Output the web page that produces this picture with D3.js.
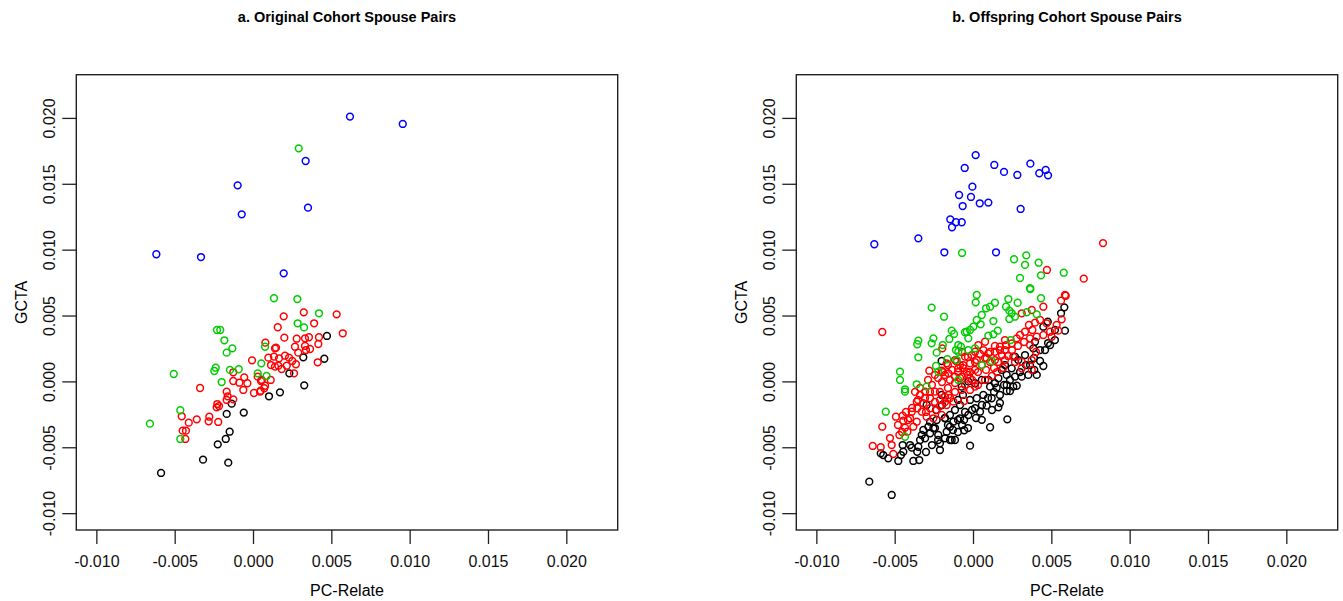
<!DOCTYPE html>
<html>
<head>
<meta charset="utf-8">
<script src="https://cdn.jsdelivr.net/npm/d3@7"></script>
<style>
  body { margin: 0; background: #fff; }
  text { font-family: "Liberation Sans", Arial, Helvetica, sans-serif; }
</style>
</head>
<body>
<div id="chart"></div>
<script>
// values, [PC-Relate, GCTA]
var tickValues = [-0.010, -0.005, 0.000, 0.005, 0.010, 0.015, 0.020];

var origBlack = [[-0.00587,-0.00695],[-0.00319,-0.00594],[-0.00158,-0.00617],[-0.00225,-0.00478],[-0.00174,-0.00437],
  [-0.00149,-0.00382],[-0.00168,-0.00247],[-0.00136,-0.00169],[-0.00059,-0.00237],[0.00102,-0.00113],[0.00172,-0.00083],
  [0.00232,0.00061],[0.00321,0.00183],[0.00327,-0.0003],[0.00472,0.00345],[0.00455,0.00172]];

var origRed = [[-0.00338,-0.0005],[-0.00455,-0.00265],[-0.00449,-0.00374],[-0.00428,-0.00374],[-0.00432,-0.00437],
  [-0.0041,-0.00313],[-0.00359,-0.00288],[-0.00279,-0.00268],[-0.00283,-0.00303],[-0.00222,-0.00308],[-0.00232,-0.00197],
  [-0.00228,-0.00172],[-0.00217,-0.00187],[-0.00168,-0.00078],[-0.00162,-0.00113],[-0.00168,-0.00141],[-0.00126,-0.00136],
  [-0.00126,0.00003],[-0.00126,0.00069],[-0.00087,-0.0001],[-0.00056,0.00031],[-0.00062,-0.00065],[-0.00036,-0.00014],
  [-0.00006,0.0016],[0.00006,-0.00088],[0.0003,0.00036],[0.00049,-0.00071],[0.00072,-0.00052],[0.00051,0.00003],
  [0.00079,0.00294],[0.00113,0.00011],[0.00158,0.00411],[0.00196,0.00494],[0.002,0.00332],[0.0014,0.00251],
  [0.00324,0.00524],[0.0039,0.00441],[0.00534,0.00509],[0.00573,0.00365],[0.00413,0.00145],[0.00279,0.00324],
  [0.00332,0.00327],[0.00357,0.00335],[0.00421,0.00335],[0.00268,0.00263],[0.00332,0.00269],[0.00364,0.00246],
  [0.00417,0.00284],[0.00289,0.00218],[0.00338,0.00238],[0.00147,0.00256],[0.00098,0.0018],[0.00134,0.00188],
  [0.00166,0.00175],[0.00204,0.00195],[0.0023,0.0018],[0.00251,0.00155],[0.00274,0.0013],[0.00115,0.00124],
  [0.0014,0.00112],[0.00162,0.00119],[0.00183,0.00094],[0.00215,0.00119],[0.00262,0.00061],[0.00077,-0.00033],
  [0.00045,-0.00078],[0.00056,0.00011]];

var origGreen = [[0.00292,0.01769],[-0.00658,-0.00321],[-0.00506,0.00056],[-0.00464,-0.00219],[-0.00464,-0.00437],
  [-0.0023,0.0039],[-0.00209,0.0039],[-0.00183,0.00312],[-0.00168,0.00218],[-0.00132,0.00251],[-0.00238,0.00104],
  [-0.00247,0.00079],[-0.002,-0.00005],[-0.00147,0.00087],[-0.00091,0.00092],[0.00053,0.00137],[0.00077,0.00263],
  [0.0003,0.00061],[0.00087,0.00041],[0.00285,0.00441],[0.00326,0.0041],[0.00421,0.00517],[0.00134,0.00631],
  [0.00283,0.00625]];

var origBlue = [[-0.00617,0.00965],[-0.00332,0.00944],[-0.00098,0.01488],[-0.00072,0.01268],[0.00196,0.0082],
  [0.00336,0.01673],[0.00351,0.01319],[0.00619,0.0201],[0.00956,0.01954]];

var offBlack = [[-0.002,0.00155],
  [0.00583,0.00562],[0.00562,0.00517],[0.00587,0.00385],[0.00477,0.00453],[0.00449,0.00415],[0.00396,0.00301],
  [0.00385,0.00251],[0.00289,0.00162],[0.00268,0.00188],[0.00428,0.00155],[0.00449,0.00117],[0.00391,0.00087],
  [0.00407,0.00049],[0.00353,0.00049],[0.00204,0.00124],[0.00247,0.00099],[0.00183,0.00087],[0.00215,0.00049],
  [0.00268,0.00036],[0.00311,0.00036],[0.00162,0.00024],[0.00098,0.00011],[0.0014,-0.00014],[0.00109,-0.0004],
  [0.00056,0.00011],[0.00013,-0.00014],[-0.0003,0],[-0.00072,-0.0004],[0.00215,-0.00027],[0.00257,-0.0004],
  [-0.00662,-0.00761],[-0.00519,-0.00862],[-0.00589,-0.00546],[-0.00573,-0.00559],[-0.00541,-0.00584],
  [-0.00477,-0.00604],[-0.0046,-0.00559],[-0.00445,-0.00534],[-0.00449,-0.00483],[-0.00402,-0.00483],
  [-0.00391,-0.00503],[-0.00356,-0.00534],[-0.00349,-0.00496],[-0.00338,-0.00445],[-0.00327,-0.00407],
  [-0.00381,-0.00604],[-0.00343,-0.00597],[-0.00317,-0.00369],[-0.00285,-0.00344],[-0.00274,-0.00394],
  [-0.00253,-0.00356],[-0.00222,-0.00407],[-0.00211,-0.0047],[-0.00211,-0.00521],[-0.00168,-0.00382],
  [-0.00179,-0.00432],[-0.00136,-0.00445],[-0.00147,-0.00344],[-0.00125,-0.00306],[-0.00179,-0.0028],
  [-0.00232,-0.00293],[-0.00274,-0.00306],[-0.00306,-0.00432],[-0.002,-0.00103],[-0.00236,-0.00217],
  [-0.00296,-0.00179],
  [0.00151,-0.00048],[0.00215,-0.00073],[0.00236,-0.00073],[0.00279,-0.00033],[0.00162,-0.00197],[0.00219,-0.00288],
  [0.00109,-0.00348],[0.00056,-0.00292],[0.00045,-0.0023],[0.00087,-0.00184],[0.00119,-0.00128],[0.00013,-0.00204],
  [-0.0003,-0.00255],[-0.00083,-0.0028],[0.00024,-0.00128],[0.00066,-0.00103],[-0.00056,-0.00371],[-0.00019,-0.00488],
  [-0.00115,-0.00445],
  [-0.00115,-0.00217],[-0.00083,-0.00179],[-0.00051,-0.00232],[-0.00096,-0.00293],[-0.00147,-0.00255],
  [-0.0007,-0.00331],[-0.00019,-0.00141],[0.00332,0.002],[0.00364,0.00124],[0.0046,0.00238],[0.00492,0.00276],
  [0.00523,0.00314],
  [-0.00198,-0.00179],[-0.0016,-0.00331],[-0.00128,-0.00369],[-0.00096,-0.00384],[-0.00057,-0.00293],
  [-0.00032,-0.00354],[-0.00006,-0.00217],[0.00019,-0.00278],[0.00057,-0.00179],[0.00096,-0.00126],
  [0.00134,-0.0008],[0.00172,-0.00103],[0.00198,-0.00027],[0.00236,0.00011],[0.003,0.00071],[0.00338,0.00124],
  [0.00389,0.00178],[0.00428,0.00238],[0.00479,0.00291],[0.00523,0.0039],[-0.00096,-0.00141],[-0.00064,-0.00103],
  [-0.00147,-0.00445],[-0.00223,-0.00445],[-0.00262,-0.00483],[-0.003,-0.00536],[-0.00243,-0.00354],
  [-0.00179,-0.00278],[0.00121,-0.00217],[0.00172,-0.00164]];

var offRed = [[0.00472,0.00846],[0.00707,0.0078],[0.00592,0.0065],[0.0083,0.0105],
  [-0.00579,0.00375],[-0.00196,0.00251],[-0.00279,0.00081],[-0.00168,0.00137],[-0.00104,0.0015],[-0.002,0.00081],
  [-0.00157,0.00061],[-0.00115,0.00036],
  [0.00587,0.00656],[0.00562,0.00613],[0.00449,0.00567],[0.00375,0.00542],[0.00311,0.00517],[0.00566,0.00471],
  [0.00534,0.00428],[0.00545,0.00385],[0.00428,0.00466],[0.00396,0.00446],[0.00357,0.00428],[0.0047,0.00441],
  [0.00492,0.00377],[0.00449,0.00352],[0.00502,0.00339],[0.00332,0.00377],[0.003,0.00352],[0.00364,0.00327],
  [0.00407,0.00339],[0.00379,0.0039],[0.00204,0.00314],[0.00247,0.00289],[0.00279,0.00327],[0.00172,0.00263],
  [0.00204,0.00238],[0.00077,0.00301],[0.00034,0.00276],[0.00013,0.00225],[0.00066,0.00238],[0.00098,0.00213],
  [0.0014,0.00225],[-0.00051,0.00188],[-0.00008,0.002],[-0.00062,0.00124],[-0.00019,0.00137],[0.00024,0.00162],
  [0.00087,0.00175],[0.0014,0.00162],[-0.00094,0.00099],[-0.0004,0.00074],[0.00013,0.00087],[-0.00072,0.00036],
  [-0.00019,0.00024],[0.00204,0.00162],[0.00257,0.00188],[0.00311,0.0015],[0.00375,0.00162],[0.00311,0.00099],
  [0.00375,0.00087],
  [-0.00579,-0.00344],[-0.0064,-0.0049],[-0.00589,-0.005],[-0.00519,-0.00483],[-0.00509,-0.00551],[-0.00492,-0.00268],
  [-0.00449,-0.0026],[-0.00445,-0.00298],[-0.00402,-0.0028],[-0.00391,-0.0023],[-0.00356,-0.00204],[-0.00327,-0.0023],
  [-0.0047,-0.00407],[-0.00434,-0.00351],[-0.00419,-0.00382],[-0.00381,-0.00344],[-0.00359,-0.00306],
  [-0.00338,-0.00103],[-0.00306,-0.00078],[-0.00274,-0.00128],[-0.00243,-0.00078],[-0.00211,-0.00141],
  [-0.00317,-0.00166],[-0.00274,-0.00204],[-0.00232,-0.00217],[-0.00296,-0.00268],[-0.00253,-0.0028],
  [-0.002,-0.00255],[-0.00168,-0.00179],[-0.00157,-0.00103],[-0.00125,-0.00154],[-0.00359,-0.00154],
  [-0.00056,-0.00149],[-0.00072,-0.00065],[-0.00019,-0.00065],[0.00013,-0.0004],
  [-0.00179,0.00049],[-0.00147,0.00011],[-0.00115,-0.00012],[-0.00083,0.00026],[-0.00051,-0.00027],[-0.0016,-0.0005],
  [-0.00198,-0.00005],[-0.00223,0.00026],[-0.00134,0.00087],[-0.00096,0.00071],[-0.00064,0.00102],[-0.00032,0.00049],
  [-0.00006,0.00011],[0.00032,0.00071],[0.00057,0.00124],[0.00083,0.00087],[0.00109,0.00147],[0.00134,0.00102],
  [0.0016,0.00147],[0.00185,0.002],[-0.00211,-0.0008],[-0.00179,-0.00118],[-0.00262,-0.00027],[-0.00287,0.00011],
  [-0.00243,0.00049],
  [-0.0007,0.00223],[-0.00032,0.00185],[0.00013,0.00147],[0.00045,0.00208],[0.00077,0.00178],[0.00109,0.00223],
  [0.0014,0.00269],[0.00172,0.00238],[0.00211,0.00276],[0.00249,0.00238],[0.00287,0.00269],[0.00326,0.00299],
  [0.00364,0.00276],[0.00402,0.00223],[0.00223,0.00193],[0.00268,0.00147],[0.00153,0.00071],[0.00192,0.00102],
  [0.00121,0.00041],[0.00077,0.00011],[0.00032,-0.00027],[-0.00019,0.00071],[-0.00083,0.00124],[-0.00115,0.00162],
  [-0.0016,0.00124],[-0.00192,0.00071],
  [-0.0037,-0.0008],[-0.00338,-0.0005],[-0.00306,-0.00126],[-0.00274,-0.0008],[-0.00243,-0.00156],[-0.00211,-0.00187],
  [-0.00179,-0.00156],[-0.00147,-0.00126],[-0.00115,-0.0008],[-0.00351,-0.00141],[-0.00389,-0.00202],
  [-0.00428,-0.00232],[-0.003,-0.00232],[-0.00415,-0.00293],[-0.00479,-0.00331],[-0.00453,-0.00384],[-0.0053,-0.0043]];

var offGreen = [[-0.0007,0.00975],[0.00262,0.00927],[0.0034,0.00957],[0.00332,0.00884],[0.00419,0.00901],
  [0.00434,0.00805],[0.00579,0.00825],[0.003,0.00785],[0.00366,0.00701],[0.00024,0.00656],
  [-0.00264,0.0056],[-0.00185,0.00491],[-0.00136,0.00385],[-0.00121,0.0036],[-0.00151,0.00322],[-0.00349,0.00309],
  [-0.00356,0.00282],[-0.00253,0.00327],[-0.00264,0.00289],[-0.00193,0.00276],[-0.00232,0.00218],[-0.00349,0.00183],
  [-0.00109,0.00238],[-0.00094,0.00276],[-0.00164,0.00168],[-0.00466,0.00074],[-0.00466,0.00011],[-0.00236,0.00117],
  [-0.00222,0.00074],[-0.00359,-0.00022],[-0.00296,-0.0004],[-0.00434,-0.0006],
  [0.00017,0.006],[0.00226,0.00625],[0.00285,0.00597],[0.0014,0.00597],[0.00109,0.00567],[0.00083,0.00555],
  [0.00211,0.00567],[0.00232,0.00537],[0.00434,0.00631],[0.00364,0.00707],[0.00343,0.00525],[0.00247,0.00517],
  [0.00268,0.00491],[0.00232,0.00474],[0.00056,0.00504],[0.00024,0.00466],[0.00049,0.00433],[0.0013,0.00458],
  [0.00002,0.00415],[-0.00019,0.0039],[-0.0004,0.00377],[0.00158,0.00385],[0.0013,0.00357],[0.00098,0.00347],
  [-0.00051,0.00373],[-0.0003,0.00327],[-0.00077,0.00263],[-0.00094,0.00225],[-0.00104,0.00162],[-0.0003,0.00238],
  [0.00013,0.00251],[0.00119,0.00155],[0.00241,0.00314],[0.00407,0.00509],[0.00056,0.00124],[-0.00094,0.00011],
  [-0.00434,-0.00078],[-0.00557,-0.0023],[-0.00434,-0.0042]];

var offBlue = [[-0.0063,0.01041],[-0.00349,0.01086],[-0.00183,0.0098],[-0.00145,0.0123],[-0.00134,0.0117],
  [-0.00109,0.01208],[-0.00072,0.01208],[-0.00089,0.01415],[-0.00066,0.01331],[-0.00053,0.0162],[0.00017,0.01718],
  [-0.00004,0.01478],[-0.00013,0.014],[0.00043,0.01352],[0.00098,0.01357],[0.00136,0.01643],[0.00198,0.0159],
  [0.00147,0.0098],[0.00283,0.01567],[0.00304,0.01309],[0.00366,0.01653],[0.00423,0.0158],[0.00464,0.01605],
  [0.00479,0.01564]];

var width = 541.4,
    height = 455.3,
    plotTop = 74.7;

var svg = d3.select("#chart")
  .append("svg")
    .attr("width", 1343)
    .attr("height", 601);

// both axes run -0.010..0.022 with R's 4% padding
var x = d3.scaleLinear().domain([-0.01128, 0.02328]).range([0, width]);
var y = d3.scaleLinear().domain([-0.01128, 0.02328]).range([height, 0]);

// R prints a plain hyphen for the minus sign
var fmt = d3.formatLocale({decimal: ".", thousands: ",", grouping: [3], currency: ["", ""], minus: "-"}).format(".3f");

function drawPanel(left, title, groups) {
  var g = svg.append("g")
    .attr("transform", "translate(" + left + "," + plotTop + ")");

  // points, one colour group at a time
  groups.forEach(function(grp) {
    g.append("g")
      .selectAll("circle")
      .data(grp.data)
      .enter()
      .append("circle")
        .attr("cx", function(d) { return x(d[0]); })
        .attr("cy", function(d) { return y(d[1]); })
        .attr("r", 3.4)
        .attr("fill", "none")
        .attr("stroke", grp.color)
        .attr("stroke-width", 1.5);
  });

  // box
  g.append("rect")
    .attr("width", width)
    .attr("height", height)
    .attr("fill", "none")
    .attr("stroke", "#222")
    .attr("stroke-width", 1.4);

  var xAxis = g.append("g")
    .attr("transform", "translate(0," + height + ")")
    .call(d3.axisBottom(x).tickValues(tickValues).tickSize(14).tickPadding(12).tickFormat(fmt));
  var yAxis = g.append("g")
    .call(d3.axisLeft(y).tickValues(tickValues).tickSize(14).tickFormat(fmt));

  [xAxis, yAxis].forEach(function(a) {
    a.select(".domain").remove();
    a.selectAll(".tick line").attr("stroke", "#222").attr("stroke-width", 1.3);
    a.selectAll(".tick text")
      .attr("fill", "#111")
      .style("font-size", "16px")
      .style("font-family", "'Liberation Sans', Arial, sans-serif");
  });

  // R draws the y labels parallel to the axis
  yAxis.selectAll(".tick text")
    .attr("x", null).attr("dy", null)
    .attr("text-anchor", "middle")
    .attr("transform", "translate(-21,0) rotate(-90)");

  svg.append("text")
    .attr("x", left + width / 2)
    .attr("y", 22)
    .attr("text-anchor", "middle")
    .style("font-size", "14.5px")
    .style("font-weight", "bold")
    .text(title);

  svg.append("text")
    .attr("x", left + width / 2)
    .attr("y", 596)
    .attr("text-anchor", "middle")
    .style("font-size", "16px")
    .text("PC-Relate");

  svg.append("text")
    .attr("transform", "translate(" + (left - 49) + "," + (plotTop + height / 2) + ") rotate(-90)")
    .attr("text-anchor", "middle")
    .style("font-size", "16px")
    .text("GCTA");
}

drawPanel(76.3, "a. Original Cohort Spouse Pairs", [
  {data: origBlack, color: "#000000"},
  {data: origRed, color: "#FF0000"},
  {data: origGreen, color: "#00CD00"},
  {data: origBlue, color: "#0000FF"}
]);

drawPanel(796.3, "b. Offspring Cohort Spouse Pairs", [
  {data: offBlack, color: "#000000"},
  {data: offRed, color: "#FF0000"},
  {data: offGreen, color: "#00CD00"},
  {data: offBlue, color: "#0000FF"}
]);
</script>
</body>
</html>
